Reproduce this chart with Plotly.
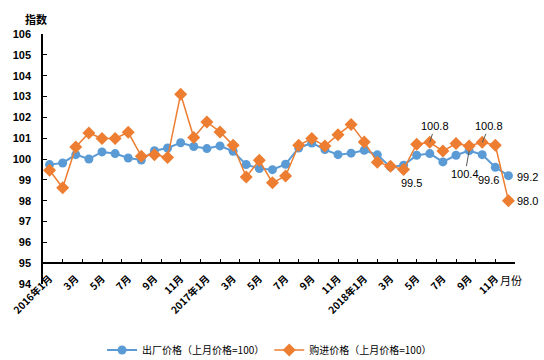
import plotly.graph_objects as go

months = ["2016年1月","2月","3月","4月","5月","6月","7月","8月","9月","10月","11月","12月",
          "2017年1月","2月","3月","4月","5月","6月","7月","8月","9月","10月","11月","12月",
          "2018年1月","2月","3月","4月","5月","6月","7月","8月","9月","10月","11月","12月"]

factory = [99.73, 99.81, 100.21, 100.0, 100.34, 100.26, 100.05, 99.95, 100.4, 100.53, 100.78, 100.6,
           100.5, 100.63, 100.37, 99.73, 99.54, 99.49, 99.75, 100.53, 100.77, 100.45, 100.21, 100.28,
           100.42, 100.2, 99.62, 99.7, 100.18, 100.26, 99.86, 100.18, 100.4, 100.21, 99.6, 99.2]

purchase = [99.46, 98.62, 100.58, 101.25, 100.99, 100.99, 101.28, 100.13, 100.21, 100.07, 103.11, 101.03,
            101.78, 101.3, 100.66, 99.14, 99.94, 98.86, 99.18, 100.66, 100.98, 100.63, 101.17, 101.65,
            100.82, 99.85, 99.65, 99.5, 100.71, 100.8, 100.38, 100.74, 100.63, 100.8, 100.66, 98.0]

series_names = ["出厂价格（上月价格=100）", "购进价格（上月价格=100）"]
y_ticks = list(range(94, 107))
x_tick_idx = list(range(0, 36, 2))
x_tick_text = [months[i] for i in x_tick_idx]
minor_ticks = list(range(0, 25))

BLUE = "#5B9BD5"
ORANGE = "#ED7D31"
FONT = "Arial, Liberation Sans, Noto Sans CJK SC"
idx = list(range(len(months)))

fig = go.Figure()
fig.add_trace(go.Scatter(x=idx, y=factory, name=series_names[0], mode="lines+markers",
                         line=dict(color=BLUE, width=2),
                         marker=dict(symbol="circle", size=9, color=BLUE), cliponaxis=False))
fig.add_trace(go.Scatter(x=idx, y=purchase, name=series_names[1], mode="lines+markers",
                         line=dict(color=ORANGE, width=1.5),
                         marker=dict(symbol="diamond", size=10, color=ORANGE), cliponaxis=False))
fig.add_trace(go.Scatter(x=[minor_ticks[0], minor_ticks[-1]], y=[None, None], xaxis="x2", yaxis="y",
                         showlegend=False, hoverinfo="skip", mode="lines"))

axis_pos = (95 - 94) / (106 - 94)

fig.update_layout(
    width=544, height=360,
    margin=dict(l=43, r=29, t=34, b=76, autoexpand=False),
    paper_bgcolor="white", plot_bgcolor="white",
    font=dict(family=FONT, size=11, color="black"),
    showlegend=True,
    legend=dict(orientation="h", x=0.48, xanchor="center", y=-0.264, yanchor="middle",
                font=dict(size=10, family="Noto Sans CJK SC"), itemwidth=30, tracegroupgap=0),
    xaxis=dict(range=[-0.5, 35.5], tickvals=x_tick_idx, ticktext=x_tick_text, tickangle=-45,
               anchor="free", position=axis_pos, showline=True, linecolor="black", linewidth=1.5,
               ticks="", showgrid=False, zeroline=False, automargin=False, ticklabelstandoff=5,
               tickfont=dict(family="Noto Sans CJK SC", size=10, color="black", weight="bold")),
    xaxis2=dict(range=[0, 24], tickvals=minor_ticks, overlaying="x", anchor="free", position=axis_pos,
                showticklabels=False, ticks="inside", ticklen=4, tickcolor="black", tickwidth=1,
                showline=False, showgrid=False, zeroline=False, automargin=False),
    yaxis=dict(range=[94, 106], tickvals=y_ticks, ticks="inside", ticklen=4, tickcolor="black",
               showline=True, linecolor="black", linewidth=1.5, showgrid=False, zeroline=False,
               ticklabelstandoff=8, automargin=False,
               tickfont=dict(family="Arial, Liberation Sans", size=11, color="black", weight="bold")),
)

# axis titles
fig.add_annotation(text="<b>指数</b>", xref="paper", yref="paper", x=-0.042, y=1.1,
                   showarrow=False, font=dict(size=11, family="Noto Sans CJK SC"))
fig.add_annotation(text="月份", xref="paper", yref="paper", x=1.02, y=-0.025,
                   showarrow=False, font=dict(size=11, family="Noto Sans CJK SC"))

lab_font = dict(size=11, family="Arial, Liberation Sans", color="black")
def fmt(v):
    return f"{v:.1f}"

# data labels
fig.add_annotation(x=27, y=purchase[27], text=fmt(purchase[27]), showarrow=False,
                   xshift=8, yshift=-14, font=lab_font)
fig.add_annotation(x=29, y=purchase[29], text=fmt(purchase[29]), showarrow=True, arrowhead=0,
                   arrowwidth=1, arrowcolor="#595959", ax=5, ay=-16, font=lab_font)
fig.add_annotation(x=33, y=purchase[33], text=fmt(purchase[33]), showarrow=True, arrowhead=0,
                   arrowwidth=1, arrowcolor="#595959", ax=7, ay=-16, font=lab_font)
fig.add_annotation(x=32, y=factory[32], text=fmt(factory[32]), showarrow=True, arrowhead=0,
                   arrowwidth=1, arrowcolor="#595959", ax=-4, ay=23, font=lab_font)
fig.add_annotation(x=34, y=factory[34], text=fmt(factory[34]), showarrow=False,
                   xshift=-7, yshift=-13, font=lab_font)
fig.add_annotation(x=35, y=factory[35], text=fmt(factory[35]), showarrow=False,
                   xshift=7, yshift=-1, xanchor="left", font=lab_font)
fig.add_annotation(x=35, y=purchase[35], text=fmt(purchase[35]), showarrow=False,
                   xshift=7, yshift=0, xanchor="left", font=lab_font)

fig.write_html("out.html", config={"displayModeBar": False},
               post_script="document.body.style.margin='0';document.body.style.overflow='hidden';")
